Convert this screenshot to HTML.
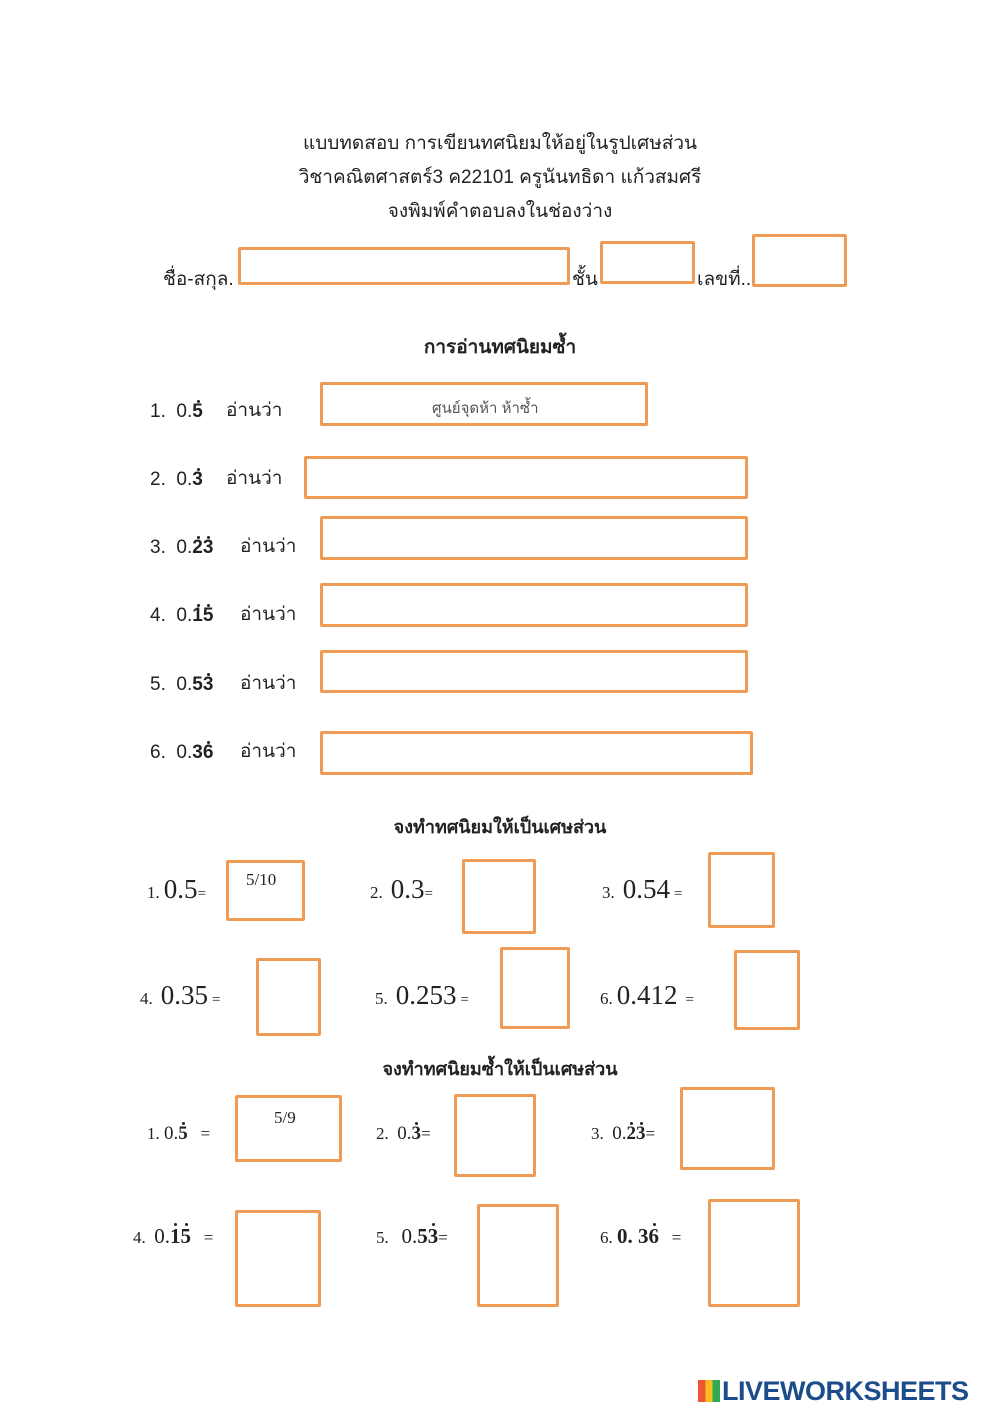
<!DOCTYPE html>
<html><head><meta charset="utf-8"><style>
body{margin:0;background:#fff;}
#p{position:relative;width:1000px;height:1413px;overflow:hidden;font-family:"Liberation Sans","DejaVu Sans",sans-serif;color:#222;}
.t{position:absolute;white-space:nowrap;}
.b{position:absolute;border:3px solid #ef9a55;box-sizing:border-box;border-radius:2px;}
.c{text-align:center;width:1000px;left:0;font-size:19px;}
.n{font-size:19px;}
.m{font-family:"Liberation Serif",serif;}
.d{position:relative;display:inline-block;font-weight:bold;}
.d::after{content:"";position:absolute;left:50%;top:-1px;width:3px;height:3px;margin-left:-1px;background:#222;border-radius:50%;}
</style></head><body><div id="p">
<div class="t c" style="top:128px">แบบทดสอบ การเขียนทศนิยมให้อยู่ในรูปเศษส่วน</div>
<div class="t c" style="top:162px">วิชาคณิตศาสตร์3 ค22101 ครูนันทธิดา แก้วสมศรี</div>
<div class="t c" style="top:196px">จงพิมพ์คำตอบลงในช่องว่าง</div>
<div class="t" style="left:163px;top:264px;font-size:19px">ชื่อ-สกุล.</div>
<div class="t" style="left:572px;top:264px;font-size:19px">ชั้น</div>
<div class="t" style="left:697px;top:264px;font-size:19px">เลขที่..</div>
<div class="b" style="left:238px;top:247px;width:332px;height:38px"></div>
<div class="b" style="left:600px;top:241px;width:95px;height:43px"></div>
<div class="b" style="left:752px;top:234px;width:95px;height:53px"></div>
<div class="t c" style="top:332px;font-weight:bold">การอ่านทศนิยมซ้ำ</div>

<div class="t n" style="left:150px;top:401px">1.&nbsp; 0.<span class="d">5</span></div><div class="t n" style="left:226px;top:395px">อ่านว่า</div>
<div class="t n" style="left:150px;top:469px">2.&nbsp; 0.<span class="d">3</span></div><div class="t n" style="left:226px;top:463px">อ่านว่า</div>
<div class="t n" style="left:150px;top:537px">3.&nbsp; 0.<span class="d">2</span><span class="d">3</span></div><div class="t n" style="left:240px;top:531px">อ่านว่า</div>
<div class="t n" style="left:150px;top:605px">4.&nbsp; 0.<span class="d">1</span><span class="d">5</span></div><div class="t n" style="left:240px;top:599px">อ่านว่า</div>
<div class="t n" style="left:150px;top:674px">5.&nbsp; 0.<b>5</b><span class="d">3</span></div><div class="t n" style="left:240px;top:668px">อ่านว่า</div>
<div class="t n" style="left:150px;top:742px">6.&nbsp; 0.<b>3</b><span class="d">6</span></div><div class="t n" style="left:240px;top:736px">อ่านว่า</div>
<div class="b" style="left:320px;top:382px;width:328px;height:44px"></div>
<div class="t" style="left:432px;top:396px;font-size:15px;color:#555">ศูนย์จุดห้า ห้าซ้ำ</div>
<div class="b" style="left:304px;top:456px;width:444px;height:43px"></div>
<div class="b" style="left:320px;top:516px;width:428px;height:44px"></div>
<div class="b" style="left:320px;top:583px;width:428px;height:44px"></div>
<div class="b" style="left:320px;top:650px;width:428px;height:43px"></div>
<div class="b" style="left:320px;top:731px;width:433px;height:44px"></div>

<div class="t c" style="top:812px;font-weight:bold;font-size:18px">จงทำทศนิยมให้เป็นเศษส่วน</div>
<div class="t m" style="left:147px;top:874px"><span style="font-size:17px">1.</span> <span style="font-size:27px">0.5</span><span style="font-size:15px">=</span></div>
<div class="b" style="left:226px;top:860px;width:79px;height:61px"></div>
<div class="t m" style="left:246px;top:870px;font-size:17px">5/10</div>
<div class="t m" style="left:370px;top:874px"><span style="font-size:17px">2.</span>&nbsp; <span style="font-size:27px">0.3</span><span style="font-size:15px">=</span></div>
<div class="b" style="left:462px;top:859px;width:74px;height:75px"></div>
<div class="t m" style="left:602px;top:874px"><span style="font-size:17px">3.</span>&nbsp; <span style="font-size:27px">0.54</span> <span style="font-size:15px">=</span></div>
<div class="b" style="left:708px;top:852px;width:67px;height:76px"></div>
<div class="t m" style="left:140px;top:980px"><span style="font-size:17px">4.</span>&nbsp; <span style="font-size:27px">0.35</span> <span style="font-size:15px">=</span></div>
<div class="b" style="left:256px;top:958px;width:65px;height:78px"></div>
<div class="t m" style="left:375px;top:980px"><span style="font-size:17px">5.</span>&nbsp; <span style="font-size:27px">0.253</span> <span style="font-size:15px">=</span></div>
<div class="b" style="left:500px;top:947px;width:70px;height:82px"></div>
<div class="t m" style="left:600px;top:980px"><span style="font-size:17px">6.</span> <span style="font-size:27px">0.412</span> &nbsp;<span style="font-size:15px">=</span></div>
<div class="b" style="left:734px;top:950px;width:66px;height:80px"></div>

<div class="t c" style="top:1054px;font-weight:bold;font-size:18px">จงทำทศนิยมซ้ำให้เป็นเศษส่วน</div>
<div class="t m" style="left:147px;top:1123px;font-size:17px">1. <span style="font-size:19px">0.<span class="d">5</span></span> &nbsp;&nbsp;=</div>
<div class="b" style="left:235px;top:1095px;width:107px;height:67px"></div>
<div class="t m" style="left:274px;top:1108px;font-size:17px">5/9</div>
<div class="t m" style="left:376px;top:1123px;font-size:17px">2.&nbsp; <span style="font-size:19px">0.<span class="d">3</span></span>=</div>
<div class="b" style="left:454px;top:1094px;width:82px;height:83px"></div>
<div class="t m" style="left:591px;top:1123px;font-size:17px">3.&nbsp; <span style="font-size:19px">0.<span class="d">2</span><span class="d">3</span></span>=</div>
<div class="b" style="left:680px;top:1087px;width:95px;height:83px"></div>
<div class="t m" style="left:133px;top:1224px;font-size:17px">4.&nbsp; <span style="font-size:21px">0.<span class="d">1</span><span class="d">5</span></span> &nbsp;&nbsp;=</div>
<div class="b" style="left:235px;top:1210px;width:86px;height:97px"></div>
<div class="t m" style="left:376px;top:1224px;font-size:17px">5.&nbsp;&nbsp; <span style="font-size:21px">0.<b>5</b><span class="d">3</span></span>=</div>
<div class="b" style="left:477px;top:1204px;width:82px;height:103px"></div>
<div class="t m" style="left:600px;top:1224px;font-size:17px">6. <span style="font-size:21px"><b>0. 3</b><span class="d">6</span></span> &nbsp;&nbsp;=</div>
<div class="b" style="left:708px;top:1199px;width:92px;height:108px"></div>

<div class="t" style="left:698px;top:1380px;width:22px;height:22px;background:linear-gradient(90deg,#e53 0 33%,#fb2 33% 66%,#3a5 66%)"></div>
<div class="t" style="left:722px;top:1376px;font-size:27px;font-weight:bold;color:#1b4d8c;letter-spacing:-0.5px">LIVEWORKSHEETS</div>
</div></body></html>
